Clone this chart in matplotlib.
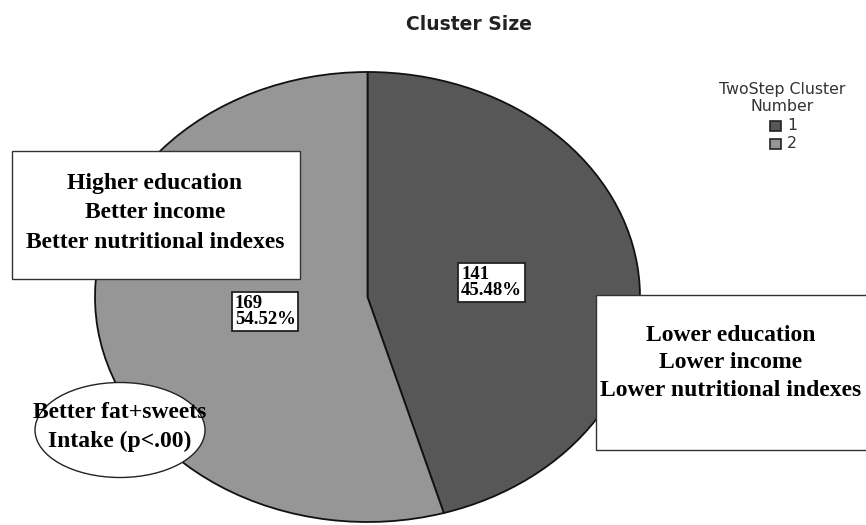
import matplotlib.pyplot as plt
from matplotlib.patches import Ellipse, Rectangle

# data
clusters = ['1', '2']
counts = [141, 169]
slice_colors = ['#575757', '#969696']

W, H = 866, 525
fig = plt.figure(figsize=(W / 100, H / 100), dpi=100)


def fx(px):
    return px / W


def fy(py):
    return 1 - py / H


# pie axes stretched so the pie becomes an ellipse
ax = fig.add_axes([fx(95), fy(522), fx(640) - fx(95), fy(72) - fy(522)])
total = sum(counts)
wedges, texts, autotexts = ax.pie(
    counts, colors=slice_colors, startangle=90, counterclock=False,
    wedgeprops=dict(edgecolor='#111111', linewidth=1.3),
    autopct=lambda p: '{:d}\n{:.2f}%'.format(int(round(p * total / 100)), p),
    pctdistance=0.46)
ax.set_aspect('auto')
ax.set_xlim(-1, 1)
ax.set_ylim(-1, 1)
ax.axis('off')
for t in autotexts:
    t.set_fontfamily('Liberation Serif')
    t.set_fontweight('bold')
    t.set_fontsize(13.5)
    t.set_multialignment('left')
    t.set_linespacing(0.9)
    t.set_bbox(dict(facecolor='white', edgecolor='#222222', linewidth=1.3, boxstyle='square,pad=0.15'))
# second label sits a bit further right in the original
x2, y2 = autotexts[1].get_position()
autotexts[1].set_position((x2 + 0.08, y2))

fig.text(fx(469), fy(24), 'Cluster Size', ha='center', va='center',
         fontsize=13.5, fontweight='bold', family='DejaVu Sans', color='#222222')

# legend drawn by hand (title centred above entries)
fig.text(fx(782), fy(98), 'TwoStep Cluster\nNumber', ha='center', va='center',
         fontsize=11.3, family='DejaVu Sans', color='#333333', linespacing=1.15)
for i, (lab, col) in enumerate(zip(clusters, slice_colors)):
    yc = 126 + i * 17.5
    fig.patches.append(Rectangle((fx(770), fy(yc + 5)), fx(11), fy(yc - 5) - fy(yc + 5),
                                 transform=fig.transFigure, facecolor=col,
                                 edgecolor='#222222', linewidth=1.2))
    fig.text(fx(787), fy(yc), lab, ha='left', va='center', fontsize=11.3,
             family='DejaVu Sans', color='#333333')

# annotation boxes
fig.patches.append(Rectangle((fx(12), fy(279)), fx(300) - fx(12), fy(151) - fy(279),
                             transform=fig.transFigure, facecolor='white',
                             edgecolor='#333333', linewidth=1, zorder=3))
fig.text(fx(155), fy(213), 'Higher education\nBetter income\nBetter nutritional indexes',
         ha='center', va='center', fontsize=17, fontweight='bold',
         family='Liberation Serif', linespacing=1.54, zorder=4)

fig.patches.append(Rectangle((fx(596), fy(450)), fx(870) - fx(596), fy(295) - fy(450),
                             transform=fig.transFigure, facecolor='white',
                             edgecolor='#333333', linewidth=1, zorder=3))
fig.text(fx(731), fy(363), 'Lower education\nLower income\nLower nutritional indexes',
         ha='center', va='center', fontsize=17, fontweight='bold',
         family='Liberation Serif', linespacing=1.43, zorder=4)

fig.patches.append(Ellipse((fx(120), fy(430)), fx(170), 95 / H,
                           transform=fig.transFigure, facecolor='white',
                           edgecolor='#222222', linewidth=1, zorder=3))
fig.text(fx(120), fy(427), 'Better fat+sweets\nIntake (p<.00)',
         ha='center', va='center', fontsize=17, fontweight='bold',
         family='Liberation Serif', linespacing=1.5, zorder=4)

fig.savefig('out.png', dpi=100)
